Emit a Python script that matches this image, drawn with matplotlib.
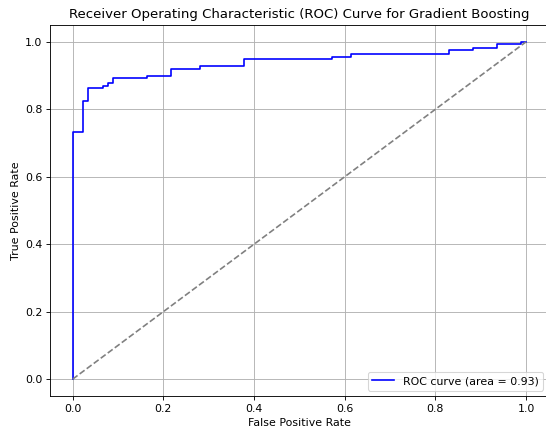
import matplotlib
matplotlib.use("Agg")
import matplotlib.pyplot as plt

# ROC step points
fpr = [0.0, 0.0, 0.0235, 0.0235, 0.0345, 0.0345, 0.067, 0.067, 0.078, 0.078,
       0.088, 0.088, 0.163, 0.163, 0.217, 0.217, 0.281, 0.281, 0.378, 0.378,
       0.572, 0.572, 0.615, 0.615, 0.829, 0.829, 0.882, 0.882, 0.937, 0.937,
       0.990, 0.990, 1.0]
tpr = [0.0, 0.732, 0.732, 0.825, 0.825, 0.863, 0.863, 0.870, 0.870, 0.879,
       0.879, 0.893, 0.893, 0.900, 0.900, 0.919, 0.919, 0.929, 0.929, 0.949,
       0.949, 0.956, 0.956, 0.965, 0.965, 0.977, 0.977, 0.983, 0.983, 0.993,
       0.993, 1.0, 1.0]
roc_auc = 0.93

DPI = 79.2
fig = plt.figure(figsize=(546 / DPI, 437 / DPI), dpi=DPI)
ax = fig.add_axes([50 / 546, (437 - 396) / 437, 498.7 / 546, 371 / 437])

ax.plot(fpr, tpr, color="blue", label="ROC curve (area = %0.2f)" % roc_auc)
ax.plot([0, 1], [0, 1], color="gray", linestyle="--")
ax.set_xlabel("False Positive Rate")
ax.set_ylabel("True Positive Rate")
ax.set_title("Receiver Operating Characteristic (ROC) Curve for Gradient Boosting")
ax.legend(loc="lower right")
ax.grid(True)

fig.savefig("out.png", dpi=DPI)
